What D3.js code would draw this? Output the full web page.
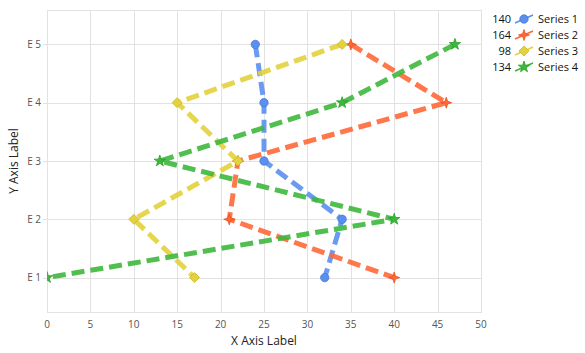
<!DOCTYPE html>
<html>
<head>
<meta charset="utf-8">
<script src="https://cdn.jsdelivr.net/npm/d3@7"></script>
<style>
  body { margin: 0; background: #fff; }
  text { font-family: "Open Sans", sans-serif; }
</style>
</head>
<body>
<div id="chart"></div>
<script>
// data
var seriesNames = ["Series 1", "Series 2", "Series 3", "Series 4"];
var yValues = [5, 4, 3, 2, 1];
var series1 = [24, 25, 25, 34, 32];
var series2 = [35, 46, 22, 21, 40];
var series3 = [34, 15, 22, 10, 17];
var series4 = [47, 34, 13, 40, 0];
var xTicks = [0, 5, 10, 15, 20, 25, 30, 35, 40, 45, 50];
var yTicks = [1, 2, 3, 4, 5];
var yTickLabels = ["E 1", "E 2", "E 3", "E 4", "E 5"];

var colors = ["#5b8fef", "#ff6836", "#e3d23c", "#3db83d"];
var strokes = ["#4677d6", "#e8501f", "#c9b82a", "#2a9e2a"];
var allSeries = [series1, series2, series3, series4];

var margin = { top: 10, right: 104, bottom: 41, left: 47 };
var width = 585 - margin.left - margin.right;
var height = 353 - margin.top - margin.bottom;

var svg = d3.select("#chart")
  .append("svg")
  .attr("width", 585)
  .attr("height", 353);

var g = svg.append("g")
  .attr("transform", "translate(" + margin.left + "," + margin.top + ")");

var x = d3.scaleLinear().domain([0, 50]).range([0, width]);
var y = d3.scaleLinear().domain([0.41, 5.59]).range([height, 0]);

// grid
g.selectAll(".vgrid")
  .data(xTicks)
  .enter().append("line")
  .attr("x1", function(d) { return Math.round(x(d)) + 0.5; })
  .attr("x2", function(d) { return Math.round(x(d)) + 0.5; })
  .attr("y1", 0)
  .attr("y2", height)
  .attr("stroke", "#e2e2e2");

g.selectAll(".hgrid")
  .data(yTicks)
  .enter().append("line")
  .attr("x1", -4)
  .attr("x2", width)
  .attr("y1", function(d) { return Math.round(y(d)) + 0.5; })
  .attr("y2", function(d) { return Math.round(y(d)) + 0.5; })
  .attr("stroke", "#e2e2e2");

g.append("rect")
  .attr("x", 0.5)
  .attr("y", 0.5)
  .attr("width", width)
  .attr("height", height)
  .attr("fill", "none")
  .attr("stroke", "#e2e2e2");

// tick labels
g.selectAll(".xlab")
  .data(xTicks)
  .enter().append("text")
  .attr("x", function(d) { return x(d); })
  .attr("y", height + 16)
  .attr("text-anchor", "middle")
  .attr("font-size", "10px")
  .attr("fill", "#555")
  .text(function(d) { return d; });

g.selectAll(".ylab")
  .data(yTicks)
  .enter().append("text")
  .attr("x", -6)
  .attr("y", function(d) { return y(d) + 3.5; })
  .attr("text-anchor", "end")
  .attr("font-size", "10px")
  .attr("fill", "#555")
  .text(function(d, i) { return yTickLabels[i]; });

g.append("text")
  .attr("x", width / 2)
  .attr("y", height + 33)
  .attr("text-anchor", "middle")
  .attr("font-size", "12px")
  .attr("fill", "#222")
  .text("X Axis Label");

g.append("text")
  .attr("transform", "translate(" + (-29) + "," + (height / 2) + ")rotate(-90)")
  .attr("text-anchor", "middle")
  .attr("font-size", "12px")
  .attr("fill", "#222")
  .text("Y Axis Label");

// marker shapes
function star4(r) {
  var p = [];
  for (var i = 0; i < 8; i++) {
    var a = i * Math.PI / 4 - Math.PI / 2;
    var rr = i % 2 === 0 ? r : r * 0.35;
    p.push([rr * Math.cos(a), rr * Math.sin(a)]);
  }
  return "M" + p.join("L") + "Z";
}
var symbols = [
  d3.symbol().type(d3.symbolCircle).size(55)(),
  star4(5.5),
  "M0,-5L5,0L0,5L-5,0Z",
  d3.symbol().type(d3.symbolStar).size(40)()
];

svg.append("clipPath").attr("id", "clip")
  .append("rect").attr("width", width).attr("height", height);

var plot = g.append("g").attr("clip-path", "url(#clip)");

var line = d3.line()
  .x(function(d) { return x(d[0]); })
  .y(function(d) { return y(d[1]); });

allSeries.forEach(function(s, k) {
  var pts = s.map(function(v, i) { return [v, yValues[i]]; });
  plot.append("path")
    .datum(pts)
    .attr("d", line)
    .attr("fill", "none")
    .attr("stroke", colors[k])
    .attr("stroke-width", 5)
    .attr("stroke-opacity", 0.9)
    .attr("stroke-dasharray", "13,6");
  plot.selectAll(".m" + k)
    .data(pts)
    .enter().append("path")
    .attr("d", symbols[k])
    .attr("transform", function(d) { return "translate(" + x(d[0]) + "," + y(d[1]) + ")"; })
    .attr("fill", colors[k])
    .attr("stroke", strokes[k])
    .attr("stroke-width", 0.8);
});

// legend
var legend = svg.append("g");
seriesNames.forEach(function(name, k) {
  var ly = 19 + k * 16;
  var total = d3.sum(allSeries[k]);
  legend.append("text")
    .attr("x", 511)
    .attr("y", ly + 4)
    .attr("text-anchor", "end")
    .attr("font-size", "11px")
    .attr("font-family", "Liberation Sans, Arial, sans-serif")
    .attr("fill", "#111")
    .text(total);
  legend.append("line")
    .attr("x1", 515).attr("y1", ly + 4)
    .attr("x2", 533).attr("y2", ly - 4)
    .attr("stroke", colors[k])
    .attr("stroke-width", 1.5);
  legend.append("path")
    .attr("d", symbols[k])
    .attr("transform", "translate(524," + ly + ")")
    .attr("fill", colors[k])
    .attr("stroke", strokes[k])
    .attr("stroke-width", 0.8);
  legend.append("text")
    .attr("x", 538)
    .attr("y", ly + 4)
    .attr("font-size", "11px")
    .attr("font-family", "Liberation Sans, Arial, sans-serif")
    .attr("fill", "#111")
    .text(name);
});
</script>
</body>
</html>
